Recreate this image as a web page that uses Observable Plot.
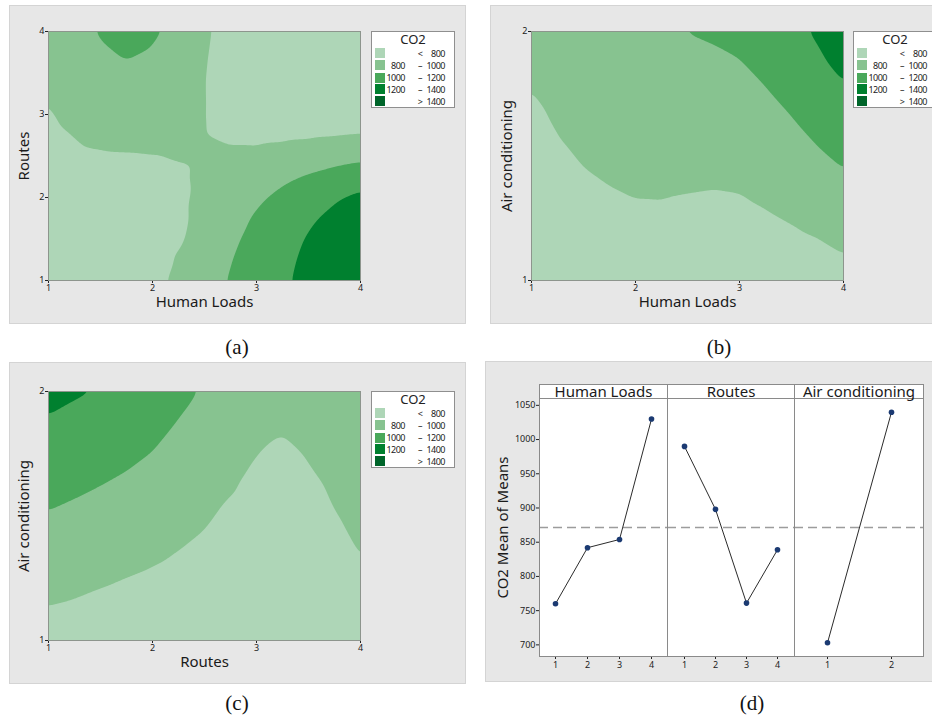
<!DOCTYPE html>
<html><head><meta charset="utf-8">
<script src="https://cdn.jsdelivr.net/npm/d3@7"></script>
<script src="https://cdn.jsdelivr.net/npm/@observablehq/plot@0.6"></script>
<style>
body{margin:0;background:#fff;width:932px;height:720px;overflow:hidden;position:relative;font-family:"Noto Sans","Open Sans",sans-serif;}
.panel{position:absolute;background:#e7e7e7;border:1px solid #d4d4d4;box-sizing:border-box;}
.abs{position:absolute;}
.cap{position:absolute;font-family:"Liberation Serif","Times New Roman",serif;font-size:21px;transform:translate(-50%,-50%);color:#111;white-space:nowrap;}
.legend{position:absolute;width:84px;height:77px;background:#fff;border:1px solid #8f8f8f;box-sizing:border-box;font-size:9px;color:#222;}
.legend span{position:absolute;line-height:11px;white-space:nowrap;letter-spacing:-0.5px;}
.hdr{position:absolute;height:15px;background:#fff;border:1px solid #8a8a8a;box-sizing:border-box;font-size:15px;line-height:12px;text-align:center;color:#1a1a1a;overflow:visible;white-space:nowrap;}
</style>
</head><body>
<script>
// ---- contour legend ----
const thresholds = [800, 1000, 1200, 1400];
const colors = ["#aed6b7", "#87c390", "#4aa85b", "#00802f", "#00652a"];
const legendLo = ["", "800", "1000", "1200", ""];
const legendSym = ["<", "\u2013", "\u2013", "\u2013", ">"];
const legendHi = ["800", "1000", "1200", "1400", "1400"];

// ---- grid coordinates ----
const levels4 = [1, 1.25, 1.5, 1.75, 2, 2.25, 2.5, 2.75, 3, 3.25, 3.5, 3.75, 4];
const levels2 = [1, 1.125, 1.25, 1.375, 1.5, 1.625, 1.75, 1.875, 2];

// (a) CO2 vs Human Loads (columns) and Routes (rows, bottom to top)
const gridA = [
  [690, 700, 715, 730, 750, 839, 926, 1013, 1095, 1177, 1241, 1290, 1330],
  [695, 702, 712, 725, 740, 811, 902, 993, 1078, 1163, 1231, 1280, 1315],
  [705, 712, 725, 738, 755, 777, 872, 966, 1053, 1137, 1213, 1262, 1300],
  [712, 718, 728, 740, 752, 765, 852, 930, 1022, 1100, 1178, 1236, 1280],
  [725, 730, 740, 750, 760, 770, 838, 895, 970, 1042, 1113, 1183, 1238],
  [748, 752, 760, 768, 775, 781, 829, 860, 905, 965, 1020, 1070, 1110],
  [765, 785, 790, 792, 797, 808, 815, 815, 820, 842, 877, 924, 956],
  [780, 802, 823, 836, 835, 822, 801, 785, 778, 778, 780, 786, 795],
  [792, 825, 862, 882, 874, 828, 801, 775, 765, 760, 760, 765, 770],
  [803, 850, 901, 927, 912, 840, 801, 772, 758, 750, 748, 750, 755],
  [818, 880, 940, 973, 951, 860, 801, 772, 755, 745, 742, 742, 745],
  [835, 905, 978, 1018, 989, 900, 804, 772, 752, 742, 737, 735, 738],
  [850, 930, 1017, 1060, 1028, 950, 809, 775, 752, 740, 733, 730, 732]
];
// (b) CO2 vs Human Loads (columns) and Air conditioning (rows)
const gridB = [
  [542, 648, 691, 711, 722, 715, 692, 674, 670, 683, 696, 707, 737],
  [584, 681, 721, 740, 752, 748, 731, 717, 716, 734, 754, 775, 811],
  [627, 714, 751, 770, 782, 781, 769, 760, 763, 785, 811, 843, 884],
  [669, 746, 781, 799, 811, 814, 808, 803, 809, 836, 869, 911, 957],
  [711, 779, 811, 828, 841, 847, 846, 846, 855, 886, 927, 979, 1030],
  [754, 812, 841, 857, 871, 880, 885, 889, 902, 937, 984, 1046, 1101],
  [796, 845, 870, 887, 901, 913, 923, 932, 948, 988, 1042, 1114, 1173],
  [838, 877, 900, 916, 930, 947, 962, 975, 994, 1039, 1099, 1172, 1245],
  [880, 910, 930, 945, 960, 980, 1003, 1018, 1041, 1090, 1157, 1220, 1316]
];
// (c) CO2 vs Routes (columns) and Air conditioning (rows)
const gridC = [
  [728, 717, 697, 684, 672, 664, 652, 650, 675, 690, 700, 722, 760],
  [793, 779, 758, 742, 726, 711, 694, 675, 695, 700, 712, 738, 775],
  [858, 841, 820, 799, 780, 758, 735, 705, 715, 715, 725, 755, 790],
  [924, 904, 881, 858, 834, 805, 777, 735, 730, 725, 740, 775, 806],
  [989, 966, 941, 916, 888, 852, 819, 770, 740, 735, 755, 796, 820],
  [1054, 1028, 1002, 974, 942, 899, 860, 816, 759, 745, 772, 820, 835],
  [1119, 1091, 1063, 1033, 996, 947, 902, 861, 802, 757, 813, 843, 850],
  [1184, 1154, 1127, 1091, 1050, 994, 943, 905, 861, 828, 854, 867, 865],
  [1249, 1218, 1192, 1149, 1104, 1041, 985, 950, 920, 900, 895, 890, 880]
];

// (d) main effects
const hlLevels = [1, 2, 3, 4];
const hlMeans = [760, 842, 854, 1030];
const routesLevels = [1, 2, 3, 4];
const routesMeans = [990, 898, 761, 839];
const acLevels = [1, 2];
const acMeans = [703, 1040];
const meTicks = [700, 750, 800, 850, 900, 950, 1000, 1050];

const FONT = "Noto Sans, Open Sans, sans-serif";

function box(left, top, w, h) {
  const d = document.createElement("div");
  d.className = "panel";
  Object.assign(d.style, {left: left + "px", top: top + "px", width: w + "px", height: h + "px"});
  document.body.appendChild(d);
}
function place(node, left, top) {
  node.classList.add("abs");
  node.style.left = left + "px";
  node.style.top = top + "px";
  document.body.appendChild(node);
}
function caption(text, x, y) {
  const d = document.createElement("div");
  d.className = "cap"; d.textContent = text;
  d.style.left = x + "px"; d.style.top = y + "px";
  document.body.appendChild(d);
}
function span(parent, text, style) {
  const s = document.createElement("span");
  s.textContent = text;
  Object.assign(s.style, style);
  parent.appendChild(s);
  return s;
}
function legend(left, top) {
  const L = document.createElement("div");
  L.className = "legend";
  L.style.left = left + "px"; L.style.top = top + "px";
  span(L, "CO2", {fontSize: "13px", left: "0px", width: "82px", textAlign: "center", top: "1px", lineHeight: "13px", letterSpacing: "0px"});
  const rowsTop = [15.5, 27.5, 40, 51.5, 63.5];
  colors.forEach((c, i) => {
    span(L, "", {left: "3px", top: (rowsTop[i] + 0.5) + "px", width: "10px", height: "10px", background: c});
    span(L, legendLo[i], {left: "14px", width: "19px", top: rowsTop[i] + "px", textAlign: "right"});
    span(L, legendSym[i], {left: "44px", width: "8px", top: rowsTop[i] + "px", textAlign: "center"});
    span(L, legendHi[i], {left: "53px", width: "20px", top: rowsTop[i] + "px", textAlign: "right"});
  });
  document.body.appendChild(L);
}

function contourPlot(grid, xs, ys, yTicks, xLabel, yLabel) {
  const data = [];
  grid.forEach((row, i) => row.forEach((v, j) => data.push({x: xs[j], y: ys[i], v})));
  return Plot.plot({
    width: 362, height: 315,
    marginLeft: 40, marginRight: 10, marginTop: 26, marginBottom: 40,
    style: {background: "transparent", fontSize: "9px", fontFamily: FONT, color: "#222", overflow: "visible"},
    x: {domain: [xs[0], xs[xs.length - 1]], ticks: [1, 2, 3, 4], tickSize: 3, tickPadding: 1, label: null, tickFormat: d3.format("d")},
    y: {domain: [ys[0], ys[ys.length - 1]], ticks: yTicks, tickSize: 3, tickPadding: 1, label: null, tickFormat: d3.format("d")},
    color: {type: "threshold", domain: thresholds, range: colors},
    marks: [
      Plot.frame({fill: colors[0]}),
      Plot.contour(data, {x: "x", y: "y", fill: "v", thresholds, interpolate: "barycentric", pixelSize: 1, blur: 4, stroke: "none"}),
      Plot.frame({stroke: "#8d958d"}),
      Plot.text([xLabel], {text: d => d, frameAnchor: "bottom", textAnchor: "middle", lineAnchor: "middle", dy: 22, fontSize: 15, fill: "#1a1a1a"}),
      Plot.text([yLabel], {text: d => d, frameAnchor: "left", textAnchor: "middle", lineAnchor: "middle", dx: -24, rotate: -90, fontSize: 15, fill: "#1a1a1a"})
    ]
  });
}

function mePlot(levels, means, frameWidth, withY) {
  const data = levels.map((l, i) => ({level: l, mean: means[i]}));
  const grand = d3.mean(hlMeans);
  const ml = withY ? 54 : 1;
  return Plot.plot({
    width: ml + frameWidth + 1, height: 1 + 258 + 26,
    marginLeft: ml, marginRight: 1, marginTop: 1, marginBottom: 26,
    style: {background: "transparent", fontSize: "9px", fontFamily: FONT, color: "#222", overflow: "visible"},
    x: {type: "point", domain: levels, padding: 0.5, tickSize: 3, tickPadding: 2, label: null, tickFormat: d3.format("d")},
    y: withY ? {domain: [683, 1060], ticks: meTicks, tickSize: 3, tickPadding: 1, label: null, tickFormat: d3.format("d")}
             : {domain: [683, 1060], axis: null},
    marks: [
      Plot.frame({fill: "#fff"}),
      Plot.ruleY([grand], {stroke: "#9c9c9c", strokeWidth: 1.6, strokeDasharray: "9,5"}),
      Plot.line(data, {x: "level", y: "mean", stroke: "#2b2b2b", strokeWidth: 1}),
      Plot.dot(data, {x: "level", y: "mean", r: 2.8, fill: "#1b3a72", stroke: "none"}),
      Plot.frame({stroke: "#8a8a8a"}),
      ...(withY ? [Plot.text(["CO2 Mean of Means"], {text: d => d, frameAnchor: "left", textAnchor: "middle", lineAnchor: "middle", dx: -36, rotate: -90, fontSize: 15, fill: "#1a1a1a"})] : [])
    ]
  });
}

function header(text, left, width) {
  const d = document.createElement("div");
  d.className = "hdr"; d.textContent = text;
  Object.assign(d.style, {left: left + "px", top: "384px", width: (width + 1) + "px"});
  document.body.appendChild(d);
}

// panel backgrounds
box(9, 5, 457, 319);
box(490, 5, 452, 319);
box(9, 362, 457, 322);
box(485, 361, 452, 321);

// (a)
place(contourPlot(gridA, levels4, levels4, [1, 2, 3, 4], "Human Loads", "Routes"), 8, 5);
legend(371, 31);
// (b)
place(contourPlot(gridB, levels4, levels2, [1, 2], "Human Loads", "Air conditioning"), 491, 5);
legend(853, 31);
// (c)
place(contourPlot(gridC, levels4, levels2, [1, 2], "Routes", "Air conditioning"), 8, 365);
legend(371, 391);
// (d)
place(mePlot(hlLevels, hlMeans, 128, true), 539 - 54, 397);
place(mePlot(routesLevels, routesMeans, 127, false), 667 - 1, 397);
place(mePlot(acLevels, acMeans, 129, false), 794 - 1, 397);
header("Human Loads", 539, 128);
header("Routes", 667, 127);
header("Air conditioning", 794, 129);

caption("(a)", 237, 347);
caption("(b)", 719, 347);
caption("(c)", 237, 703);
caption("(d)", 752, 703);
</script>
</body></html>
